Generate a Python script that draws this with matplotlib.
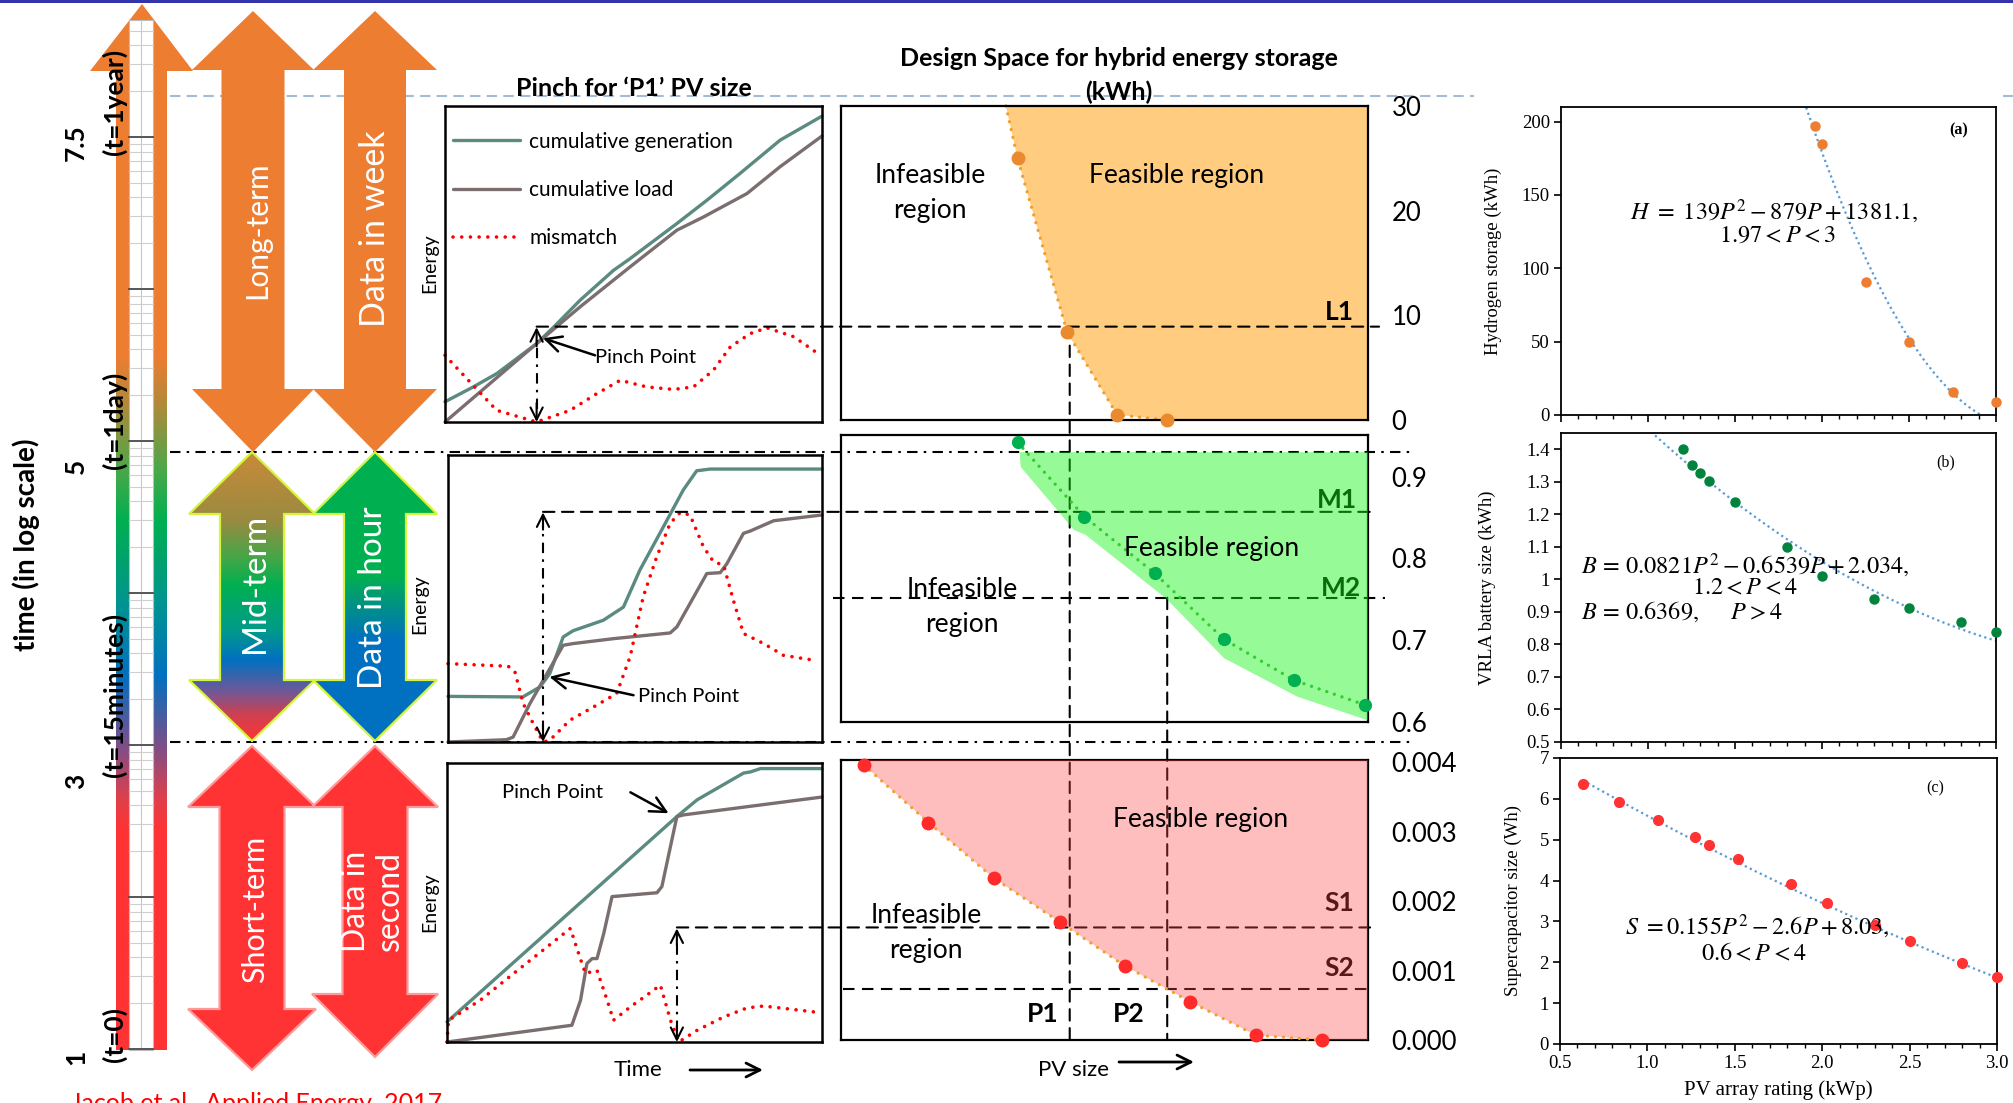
import numpy as np
import matplotlib
matplotlib.use("Agg")
import matplotlib.pyplot as plt
from matplotlib.patches import Polygon, Rectangle, ConnectionPatch
from matplotlib.transforms import blended_transform_factory
from matplotlib.ticker import FuncFormatter, MultipleLocator
from matplotlib.colors import to_rgb

# ---------------- data ----------------
# Pinch sketches: normalised time vs normalised cumulative energy
lt_gen_t = [0, 0.075, 0.137, 0.243, 0.288, 0.358, 0.447, 0.491, 0.615, 0.695, 0.783, 0.889, 1.0]
lt_gen_e = [0.064, 0.111, 0.153, 0.248, 0.30, 0.385, 0.48, 0.517, 0.628, 0.702, 0.787, 0.892, 0.968]
lt_load_t = [0, 0.243, 0.358, 0.491, 0.615, 0.686, 0.801, 0.889, 1.0]
lt_load_e = [0, 0.248, 0.364, 0.491, 0.607, 0.649, 0.723, 0.808, 0.905]
lt_mis_t = [0, 0.066, 0.137, 0.243, 0.332, 0.403, 0.465, 0.535, 0.606, 0.659, 0.712,
            0.757, 0.81, 0.854, 0.925, 0.996]
lt_mis_e = [0.211, 0.127, 0.037, 0.0, 0.037, 0.09, 0.132, 0.111, 0.103, 0.111, 0.164,
            0.238, 0.28, 0.298, 0.27, 0.211]

mt_gen_t = [0, 0.2, 0.246, 0.272, 0.308, 0.335, 0.415, 0.469, 0.513, 0.576, 0.629, 0.665, 0.701, 1.0]
mt_gen_e = [0.159, 0.157, 0.192, 0.238, 0.366, 0.388, 0.424, 0.47, 0.599, 0.75, 0.878, 0.945, 0.951, 0.951]
mt_load_t = [0, 0.156, 0.174, 0.219, 0.308, 0.335, 0.442, 0.594, 0.612, 0.692, 0.728, 0.746,
             0.79, 0.808, 0.871, 1.0]
mt_load_e = [0, 0.008, 0.017, 0.134, 0.337, 0.343, 0.36, 0.38, 0.401, 0.587, 0.59, 0.622,
             0.727, 0.735, 0.771, 0.791]
mt_mis_t = [0, 0.161, 0.179, 0.201, 0.228, 0.254, 0.272, 0.326, 0.397, 0.451, 0.487, 0.522,
            0.558, 0.594, 0.621, 0.647, 0.683, 0.71, 0.737, 0.763, 0.79, 0.844, 0.897, 0.978]
mt_mis_e = [0.273, 0.264, 0.244, 0.134, 0.064, 0.0, 0.006, 0.076, 0.128, 0.169, 0.297, 0.506,
            0.645, 0.762, 0.8, 0.791, 0.68, 0.628, 0.616, 0.494, 0.378, 0.343, 0.302, 0.285]

st_gen_t = [0, 0.613, 0.667, 0.791, 0.809, 0.836, 1.0]
st_gen_e = [0.072, 0.808, 0.868, 0.964, 0.968, 0.98, 0.98]
st_load_t = [0, 0.333, 0.356, 0.373, 0.387, 0.4, 0.418, 0.44, 0.56, 0.573, 0.613, 0.631, 1.0]
st_load_e = [0, 0.06, 0.149, 0.281, 0.299, 0.299, 0.389, 0.521, 0.535, 0.557, 0.808, 0.814, 0.878]
st_mis_t = [0, 0.004, 0.089, 0.178, 0.267, 0.329, 0.351, 0.369, 0.4, 0.427, 0.444, 0.489,
            0.533, 0.569, 0.596, 0.618, 0.667, 0.738, 0.8, 0.844, 0.978]
st_mis_e = [0, 0.078, 0.15, 0.246, 0.341, 0.407, 0.317, 0.246, 0.257, 0.15, 0.078, 0.126,
            0.168, 0.204, 0.078, 0.0, 0.042, 0.09, 0.122, 0.129, 0.108]

# pinch location (time) and storage requirement (height of mismatch peak)
pinch_t = [0.243, 0.254, 0.613]
pinch_level = [0.30, 0.80, 0.407]
pinch_label_tip = [(0.26, 0.265), (0.271, 0.227), (0.591, 0.82)]

# Design space: PV size (normalised) vs storage size (kWh)
long_pv = [0.335, 0.429, 0.524, 0.618]
long_kwh = [25.0, 8.4, 0.5, 0.0]
long_top_pv = 0.313
mid_pv = [0.335, 0.462, 0.595, 0.727, 0.860, 0.994]
mid_kwh = [0.942, 0.851, 0.782, 0.701, 0.651, 0.621]
mid_fill_pv = [0.339, 0.341, 0.442, 0.464, 0.617, 0.727, 0.866, 1.0]
mid_fill_kwh = [0.930, 0.912, 0.835, 0.829, 0.751, 0.678, 0.631, 0.602]
short_pv = [0.043, 0.166, 0.290, 0.415, 0.538, 0.663, 0.787, 0.912]
short_kwh = [0.00396, 0.00313, 0.00233, 0.00170, 0.00107, 0.00055, 0.00007, 0.0]
level_L1 = 8.92
level_M1, level_M2 = 0.857, 0.752
level_S1, level_S2 = 0.00162, 0.00073
pv_P1, pv_P2 = 0.434, 0.619
long_ticks = [0, 10, 20, 30]
mid_ticks = [0.6, 0.7, 0.8, 0.9]
short_ticks = [0.000, 0.001, 0.002, 0.003, 0.004]

# Storage sizing against PV array rating
h_pv = [1.96, 2.0, 2.25, 2.5, 2.75, 3.0]
h_kwh = [197, 185, 91, 50, 16, 9]
h_coef = [139, -879, 1381.1]
b_pv = [1.2, 1.25, 1.3, 1.35, 1.5, 1.8, 2.0, 2.3, 2.5, 2.8, 3.0]
b_kwh = [1.40, 1.353, 1.328, 1.302, 1.237, 1.099, 1.009, 0.941, 0.913, 0.870, 0.838]
b_coef = [0.0821, -0.6539, 2.034]
s_pv = [0.63, 0.84, 1.06, 1.27, 1.35, 1.52, 1.82, 2.03, 2.3, 2.5, 2.8, 3.0]
s_wh = [6.37, 5.92, 5.48, 5.06, 4.86, 4.53, 3.91, 3.46, 2.92, 2.52, 1.98, 1.63]
s_coef = [0.155, -2.6, 8.03]

time_tick_labels = ["7.5", "5", "3", "1"]
time_marks = ["(t=1year)", "(t=1day)", "(t=15minutes)", "(t=0)"]

# ---------------- figure ----------------
W, H = 2013, 1103
DPI = 100
plt.rcParams['font.family'] = ['Lato', 'DejaVu Sans']
plt.rcParams['mathtext.fontset'] = 'stix'

fig = plt.figure(figsize=(W / DPI, H / DPI), dpi=DPI)
fig.patch.set_facecolor('white')


def px_axes(x0, y0, x1, y1):
    ax = fig.add_axes([x0 / W, 1 - y1 / H, (x1 - x0) / W, (y1 - y0) / H])
    ax.set_facecolor('none')
    return ax


ORANGE = '#ED7D31'
RED = '#FF3333'
GEN = '#5A8A80'
LOAD = '#7A6E6E'
DASH = (0, (5.5, 3.6))
DASHDOT = (0, (5, 3, 1.2, 3))
DOTS = (0, (0.01, 2.4))

# background layer in pixel units
ax0 = px_axes(0, 0, W, H)
ax0.set_xlim(0, W)
ax0.set_ylim(H, 0)
ax0.set_autoscale_on(False)
ax0.axis('off')

ax0.add_patch(Rectangle((0, 0), W, 3, color='#3333AA', lw=0))
ax0.plot([170, 1474], [96, 96], color='#A3BBD3', lw=1.5, ls=(0, (5, 3)))
ax0.plot([2003, 2013], [96, 96], color='#A3BBD3', lw=1.5, ls=(0, (5, 3)))


def arrow_pts(cx, y_top, y_bot, head_half, shaft_half, base_top, base_bot):
    return [(cx, y_top), (cx + head_half, base_top), (cx + shaft_half, base_top),
            (cx + shaft_half, base_bot), (cx + head_half, base_bot), (cx, y_bot),
            (cx - head_half, base_bot), (cx - shaft_half, base_bot),
            (cx - shaft_half, base_top), (cx - head_half, base_top)]


def gradient_shape(ax, pts, stops, edge=None, lw=0.0, z=2):
    poly = Polygon(pts, closed=True, facecolor='none', edgecolor='none')
    ax.add_patch(poly)
    xs = [p[0] for p in pts]
    ys = [p[1] for p in pts]
    y0, y1 = min(ys), max(ys)
    yy = np.linspace(y0, y1, 600)
    sy = [s[0] for s in stops]
    cols = np.array([to_rgb(s[1]) for s in stops])
    img = np.stack([np.interp(yy, sy, cols[:, k]) for k in range(3)], axis=-1)[:, None, :]
    im = ax.imshow(img, extent=(min(xs), max(xs), y1, y0), origin='upper',
                   aspect='auto', interpolation='bilinear', zorder=z)
    im.set_clip_path(poly)
    if edge:
        ax.add_patch(Polygon(pts, closed=True, facecolor='none', edgecolor=edge,
                             lw=lw, zorder=z + 0.1, joinstyle='miter'))


# time bar with colour scale
bar_pts = [(142, 4), (193, 71), (167, 71), (167, 1050), (116, 1050), (116, 71), (90, 71)]
gradient_shape(ax0, bar_pts, [(0, ORANGE), (357, ORANGE), (405, '#B08A3A'), (470, '#4AA84A'),
                              (520, '#00B050'), (565, '#00A070'), (600, '#00968F'),
                              (676, '#0070C0'), (745, '#7B4F8A'), (800, '#E0404A'),
                              (830, RED), (1103, RED)])
ax0.add_patch(Rectangle((129, 20), 24, 1030, facecolor='white', edgecolor='#BBBBBB', lw=0.8, zorder=3))
ax0.plot([141, 141], [20, 1050], color='#C8C8C8', lw=0.8, zorder=3.1)
majors = [137 + 152 * k for k in range(7)]
for yb in majors:
    for k in range(2, 10):
        y = yb - 152 * np.log10(k)
        if y > 21:
            ax0.plot([129, 153], [y, y], color='#CFCFCF', lw=0.8, zorder=3.1)
for yb in majors:
    ax0.plot([129, 153], [yb, yb], color='#555555', lw=1.4, zorder=3.2)

# scale arrows
long_arrow = arrow_pts(253, 11, 452, 61, 31.5, 70, 389)
week_arrow = arrow_pts(375, 11, 452, 62, 31, 70, 389)
mid_arrow = arrow_pts(252, 452, 741, 63, 32, 514, 680)
hour_arrow = arrow_pts(375, 452, 741, 62, 31, 514, 680)
short_arrow = arrow_pts(252, 746, 1070, 64, 32.5, 807, 1009)
second_arrow = arrow_pts(375, 746, 1057, 63, 32.5, 807, 994)

ax0.add_patch(Polygon(long_arrow, closed=True, facecolor=ORANGE, edgecolor='none', zorder=2))
ax0.add_patch(Polygon(week_arrow, closed=True, facecolor=ORANGE, edgecolor='none', zorder=2))
gradient_shape(ax0, mid_arrow, [(452, '#C98A3A'), (520, '#9A8A40'), (560, '#3FA848'),
                                (585, '#00B050'), (630, '#009B8A'), (660, '#0070C0'),
                                (690, '#6A5A9A'), (715, '#D04050'), (741, RED)],
               edge='#D4F53C', lw=1.6)
gradient_shape(ax0, hour_arrow, [(452, '#00B050'), (575, '#00B050'), (640, '#0070C0'),
                                 (741, '#0070C0')], edge='#D4F53C', lw=1.6)
ax0.add_patch(Polygon(short_arrow, closed=True, facecolor=RED, edgecolor='#FF9A9A', lw=1.6, zorder=2))
ax0.add_patch(Polygon(second_arrow, closed=True, facecolor=RED, edgecolor='#FF9A9A', lw=1.6, zorder=2))

wt = dict(color='white', rotation=90, ha='center', va='center', zorder=5)
ax0.text(257, 230, "Long-term", fontsize=21.5, **wt)
ax0.text(375, 229, "Data in week", fontsize=24.5, **wt)
ax0.text(255, 583, "Mid-term", fontsize=24, **wt)
ax0.text(373, 598, "Data in hour", fontsize=24, **wt)
ax0.text(255, 909, "Short-term", fontsize=22, **wt)
ax0.text(373, 901, "Data in\nsecond", fontsize=23, linespacing=1.15, **wt)

# time axis labels
bt = dict(rotation=90, ha='center', va='center', fontweight='bold', zorder=6)
for lab, y in zip(time_tick_labels, [143, 466, 781, 1057]):
    ax0.text(76, y, lab, fontsize=19, **bt)
for lab, y in zip(time_marks, [102, 420, 695, 1034]):
    ax0.text(114, y, lab, fontsize=19, **bt)
ax0.text(26, 545, "time (in log scale)", fontsize=20, **bt)

# band separators
ax0.plot([170, 1410], [452, 452], color='k', lw=1.5, ls=DASHDOT, zorder=1)
ax0.plot([170, 1412], [742, 742], color='k', lw=1.5, ls=DASHDOT, zorder=1)

# titles and captions
ax0.text(634, 88, "Pinch for \u2018P1\u2019 PV size", fontsize=18, fontweight='bold', ha='center', va='center')
ax0.text(1119, 58, "Design Space for hybrid energy storage", fontsize=18, fontweight='bold',
         ha='center', va='center')
ax0.text(1119, 92, "(kWh)", fontsize=18, fontweight='bold', ha='center', va='center')
for x, y in [(430, 263), (420, 604), (430, 902)]:
    ax0.text(x, y, "Energy", fontsize=14, rotation=90, ha='center', va='center')
ax0.text(638, 1070, "Time", fontsize=16, ha='center', va='center')
ax0.annotate('', xy=(763, 1070), xytext=(690, 1070),
             arrowprops=dict(arrowstyle='->', lw=2, mutation_scale=25, shrinkA=0, shrinkB=0))
ax0.text(1074, 1070, "PV size", fontsize=16, ha='center', va='center')
ax0.annotate('', xy=(1194, 1062), xytext=(1119, 1062),
             arrowprops=dict(arrowstyle='->', lw=2, mutation_scale=25, shrinkA=0, shrinkB=0))
ax0.text(71, 1111, "Jacob et al., Applied Energy, 2017", fontsize=18, color='red',
         ha='left', va='baseline', clip_on=False)


# ---------------- pinch panels ----------------
def pinch_panel(rect, gen_t, gen_e, load_t, load_e, mis_t, mis_e):
    ax = px_axes(*rect)
    ax.set_xlim(0, 1)
    ax.set_ylim(0, 1)
    ax.set_xticks([])
    ax.set_yticks([])
    for s in ax.spines.values():
        s.set_linewidth(1.8)
    ax.plot(gen_t, gen_e, color=GEN, lw=2.4, clip_on=False, label='cumulative generation',
            solid_capstyle='round')
    ax.plot(load_t, load_e, color=LOAD, lw=2.4, clip_on=False, label='cumulative load',
            solid_capstyle='round')
    ax.plot(mis_t, mis_e, color='red', lw=2.6, ls=DOTS, dash_capstyle='round',
            clip_on=False, label='mismatch')
    return ax


pL = pinch_panel((445, 106, 822, 422), lt_gen_t, lt_gen_e, lt_load_t, lt_load_e, lt_mis_t, lt_mis_e)
pM = pinch_panel((448, 455, 822, 742), mt_gen_t, mt_gen_e, mt_load_t, mt_load_e, mt_mis_t, mt_mis_e)
pS = pinch_panel((447, 763, 822, 1042), st_gen_t, st_gen_e, st_load_t, st_load_e, st_mis_t, st_mis_e)

pL.legend(loc='upper left', bbox_to_anchor=(0.0, 0.945), borderaxespad=0, frameon=False,
          fontsize=15, handlelength=3.2, handletextpad=0.45, labelspacing=1.35)

text_pos = [(0.398, 0.203), (0.508, 0.157), (0.147, 0.896)]
for ax, t, lvl, tip, tp in zip([pL, pM, pS], pinch_t, pinch_level, pinch_label_tip, text_pos):
    ax.plot([t, t], [0.04, lvl - 0.04], color='k', lw=1.5, ls=DASHDOT)
    ax.annotate('', xy=(t, lvl), xytext=(t, lvl - 0.06),
                arrowprops=dict(arrowstyle='->', lw=1.5, mutation_scale=22, shrinkA=0, shrinkB=0))
    ax.annotate('', xy=(t, 0), xytext=(t, 0.06),
                arrowprops=dict(arrowstyle='->', lw=1.5, mutation_scale=22, shrinkA=0, shrinkB=0))
    ax.text(tp[0], tp[1], "Pinch Point", fontsize=14.5, ha='left', va='center')

pL.annotate('', xy=pinch_label_tip[0], xytext=(0.398, 0.211),
            arrowprops=dict(arrowstyle='->', lw=1.8, mutation_scale=28, shrinkA=0, shrinkB=0))
pM.annotate('', xy=pinch_label_tip[1], xytext=(0.496, 0.163),
            arrowprops=dict(arrowstyle='->', lw=1.8, mutation_scale=28, shrinkA=0, shrinkB=0))
pS.annotate('', xy=pinch_label_tip[2], xytext=(0.489, 0.895),
            arrowprops=dict(arrowstyle='->', lw=1.8, mutation_scale=28, shrinkA=0, shrinkB=0))


# ---------------- design space panels ----------------
def design_panel(rect, ylim, ticks, fmt):
    ax = px_axes(*rect)
    ax.set_xlim(0, 1)
    ax.set_ylim(*ylim)
    ax.set_xticks([])
    ax.yaxis.tick_right()
    ax.set_yticks(ticks)
    ax.yaxis.set_major_formatter(FuncFormatter(fmt))
    ax.tick_params(axis='y', length=0, pad=17, labelsize=18.5)
    for s in ax.spines.values():
        s.set_linewidth(1.6)
    return ax


dL = design_panel((841, 106, 1368, 420), (0, 30), long_ticks, lambda v, p: '%d' % v)
dM = design_panel((841, 435, 1368, 722), (0.6, 0.951), mid_ticks, lambda v, p: '%.1f' % v)
dS = design_panel((841, 760, 1368, 1040), (0, 0.00403), short_ticks, lambda v, p: '%.3f' % v)

# long-term storage design space
lx = [long_top_pv] + long_pv
ly = [30] + long_kwh
dL.add_patch(Polygon(list(zip(lx, ly)) + [(1, 0), (1, 30)], closed=True,
                     facecolor='#FFCC80', edgecolor='none', zorder=0.5))
dL.plot(lx, ly, color='#F0A030', lw=2.4, ls=DOTS, dash_capstyle='round', zorder=2, clip_on=False)
dL.plot(long_pv, long_kwh, 'o', ms=9, color='#EA8A2E', zorder=4, clip_on=False)
dL.add_artist(ConnectionPatch(
    xyA=(pinch_t[0], level_L1), coordsA=blended_transform_factory(pL.transData, dL.transData),
    xyB=(1.021, level_L1), coordsB=dL.transData, color='k', lw=1.5, ls=DASH, zorder=3, clip_on=False))
dL.text(0.169, 0.723, "Infeasible\nregion", transform=dL.transAxes, fontsize=19,
        ha='center', va='center', linespacing=1.5)
dL.text(0.636, 0.780, "Feasible region", transform=dL.transAxes, fontsize=19,
        ha='center', va='center', zorder=5)
dL.text(0.945, 0.344, "L1", transform=dL.transAxes, fontsize=19, fontweight='bold',
        ha='center', va='center', zorder=5)

# mid-term storage design space
dM.add_patch(Polygon(list(zip(mid_fill_pv, mid_fill_kwh)) + [(1.0, 0.930)], closed=True,
                     facecolor=(22 / 255, 244 / 255, 22 / 255), alpha=0.45,
                     edgecolor='none', zorder=2.6))
dM.plot(mid_pv, mid_kwh, color='#33CC33', lw=2.4, ls=DOTS, dash_capstyle='round', zorder=3,
        clip_on=False)
dM.plot(mid_pv, mid_kwh, 'o', ms=8.5, color='#00B050', zorder=4, clip_on=False)
dM.add_artist(ConnectionPatch(
    xyA=(pinch_t[1], level_M1), coordsA=blended_transform_factory(pM.transData, dM.transData),
    xyB=(1.017, level_M1), coordsB=dM.transData, color='k', lw=1.5, ls=DASH, zorder=1, clip_on=False))
dM.plot([-0.015, 1.032], [level_M2, level_M2], color='k', lw=1.5, ls=DASH, zorder=1, clip_on=False)
dM.text(0.704, 0.606, "Feasible region", transform=dM.transAxes, fontsize=19,
        ha='center', va='center', zorder=5)
dM.text(0.230, 0.40, "Infeasible\nregion", transform=dM.transAxes, fontsize=19,
        ha='center', va='center', linespacing=1.5)
dM.text(0.941, 0.773, "M1", transform=dM.transAxes, fontsize=19, fontweight='bold',
        ha='center', va='center', zorder=1)
dM.text(0.949, 0.467, "M2", transform=dM.transAxes, fontsize=19, fontweight='bold',
        ha='center', va='center', zorder=1)

# short-term storage design space
s_top = 0.00403
dS.add_patch(Polygon([(short_pv[0], s_top)] + list(zip(short_pv, short_kwh)) + [(1, 0), (1, s_top)],
                     closed=True, facecolor=(1.0, 71 / 255, 71 / 255), alpha=0.35,
                     edgecolor='none', zorder=2.6))
dS.plot(short_pv, short_kwh, color='#F4A030', lw=2.4, ls=DOTS, dash_capstyle='round', zorder=3,
        clip_on=False)
dS.plot(short_pv, short_kwh, 'o', ms=9, color='#FF2A2A', zorder=4, clip_on=False)
dS.add_artist(ConnectionPatch(
    xyA=(pinch_t[2], level_S1), coordsA=blended_transform_factory(pS.transData, dS.transData),
    xyB=(1.004, level_S1), coordsB=dS.transData, color='k', lw=1.5, ls=DASH, zorder=1, clip_on=False))
dS.plot([0.004, 1.0], [level_S2, level_S2], color='k', lw=1.5, ls=DASH, zorder=1, clip_on=False)
dS.text(0.682, 0.786, "Feasible region", transform=dS.transAxes, fontsize=19,
        ha='center', va='center', zorder=5)
dS.text(0.161, 0.382, "Infeasible\nregion", transform=dS.transAxes, fontsize=19,
        ha='center', va='center', linespacing=1.5)
dS.text(0.945, 0.489, "S1", transform=dS.transAxes, fontsize=19, fontweight='bold',
        ha='center', va='center', zorder=1)
dS.text(0.945, 0.257, "S2", transform=dS.transAxes, fontsize=19, fontweight='bold',
        ha='center', va='center', zorder=1)
dS.text(0.383, 0.05, "P1", transform=dS.transAxes, fontsize=19, fontweight='bold',
        ha='center', va='bottom', zorder=5)
dS.text(0.546, 0.05, "P2", transform=dS.transAxes, fontsize=19, fontweight='bold',
        ha='center', va='bottom', zorder=5)

# PV sizes P1 and P2 carried down through the design spaces
ax0.add_artist(ConnectionPatch(xyA=(pv_P1, level_L1), coordsA=dL.transData,
                               xyB=(pv_P1, 0), coordsB=dS.transData,
                               color='k', lw=1.5, ls=DASH, clip_on=False))
ax0.add_artist(ConnectionPatch(xyA=(pv_P2, level_M2), coordsA=dM.transData,
                               xyB=(pv_P2, 0), coordsB=dS.transData,
                               color='k', lw=1.5, ls=DASH, clip_on=False))


# ---------------- sizing curves ----------------
SERIF = 'Liberation Serif'


def sizing_panel(rect, ylim, ystep, show_x):
    ax = px_axes(*rect)
    ax.set_facecolor('white')
    ax.set_xlim(0.5, 3.0)
    ax.set_ylim(*ylim)
    ax.xaxis.set_major_locator(MultipleLocator(0.5))
    ax.xaxis.set_minor_locator(MultipleLocator(0.1))
    ax.yaxis.set_major_locator(MultipleLocator(ystep))
    ax.tick_params(axis='both', which='major', direction='out', length=5, width=1.2,
                   labelsize=13.5, labelfontfamily=SERIF, pad=3)
    ax.tick_params(axis='x', which='minor', direction='out', length=3, width=1.0)
    ax.tick_params(axis='x', labelbottom=show_x)
    for s in ax.spines.values():
        s.set_linewidth(1.3)
    return ax


fit_kw = dict(color='#5B9BD5', lw=1.6, ls=(0, (1, 1.5)), zorder=2)
EQ = 17.5

sa = sizing_panel((1561, 107, 1996, 415), (0, 210), 50, False)
pa = np.linspace(1.8, 3.0, 300)
sa.plot(pa, np.polyval(h_coef, pa), **fit_kw)
sa.plot(h_pv, h_kwh, 'o', ms=6.5, color=ORANGE, zorder=3, clip_on=False)
sa.set_ylabel("Hydrogen storage (kWh)", fontfamily=SERIF, fontsize=13.5)
sa.yaxis.set_label_coords(-0.136, 0.5)
sa.text(0.490, 0.659, r"$H\ =\ 139P^2 - 879P + 1381.1,$", transform=sa.transAxes,
        fontsize=EQ, ha='center', va='center')
sa.text(0.497, 0.584, r"$1.97 < P < 3$", transform=sa.transAxes, fontsize=EQ,
        ha='center', va='center')
sa.text(0.915, 0.925, "(a)", transform=sa.transAxes, fontsize=11.5, fontfamily=SERIF,
        fontweight='bold', ha='center', va='center')

sb = sizing_panel((1561, 433, 1996, 742), (0.5, 1.45), 0.1, False)
pb = np.linspace(0.9, 3.0, 300)
sb.plot(pb, np.polyval(b_coef, pb), **fit_kw)
sb.plot(b_pv, b_kwh, 'o', ms=6.5, color='#00843D', zorder=3, clip_on=False)
sb.yaxis.set_major_formatter(FuncFormatter(lambda v, p: '%g' % round(v, 2)))
sb.set_ylabel("VRLA battery size (kWh)", fontfamily=SERIF, fontsize=13.5)
sb.yaxis.set_label_coords(-0.149, 0.5)
sb.text(0.046, 0.570, r"$B\,=\,0.0821P^2 - 0.6539P + 2.034,$", transform=sb.transAxes,
        fontsize=EQ, ha='left', va='center')
sb.text(0.423, 0.498, r"$1.2 < P < 4$", transform=sb.transAxes, fontsize=EQ,
        ha='center', va='center')
sb.text(0.046, 0.421, r"$B\,=\,0.6369,\quad\ \ P > 4$", transform=sb.transAxes,
        fontsize=EQ, ha='left', va='center')
sb.text(0.885, 0.906, "(b)", transform=sb.transAxes, fontsize=11.5, fontfamily=SERIF,
        ha='center', va='center')

sc = sizing_panel((1560, 758, 1997, 1044), (0, 7), 1, True)
pc = np.linspace(0.63, 3.0, 300)
sc.plot(pc, np.polyval(s_coef, pc), **fit_kw)
sc.plot(s_pv, s_wh, 'o', ms=7, color=RED, zorder=3, clip_on=False)
sc.xaxis.set_major_formatter(FuncFormatter(lambda v, p: '%.1f' % v))
sc.set_ylabel("Supercapacitor size (Wh)", fontfamily=SERIF, fontsize=13.5)
sc.yaxis.set_label_coords(-0.087, 0.5)
sc.set_xlabel("PV array rating (kWp)", fontfamily=SERIF, fontsize=15)
sc.xaxis.set_label_coords(0.5, -0.128)
sc.text(0.451, 0.409, r"$S\ =0.155P^2 - 2.6P + 8.03,$", transform=sc.transAxes,
        fontsize=EQ, ha='center', va='center', zorder=4)
sc.text(0.444, 0.318, r"$0.6 < P < 4$", transform=sc.transAxes, fontsize=EQ,
        ha='center', va='center')
sc.text(0.858, 0.895, "(c)", transform=sc.transAxes, fontsize=11.5, fontfamily=SERIF,
        ha='center', va='center')

fig.savefig("out.png", dpi=DPI)
